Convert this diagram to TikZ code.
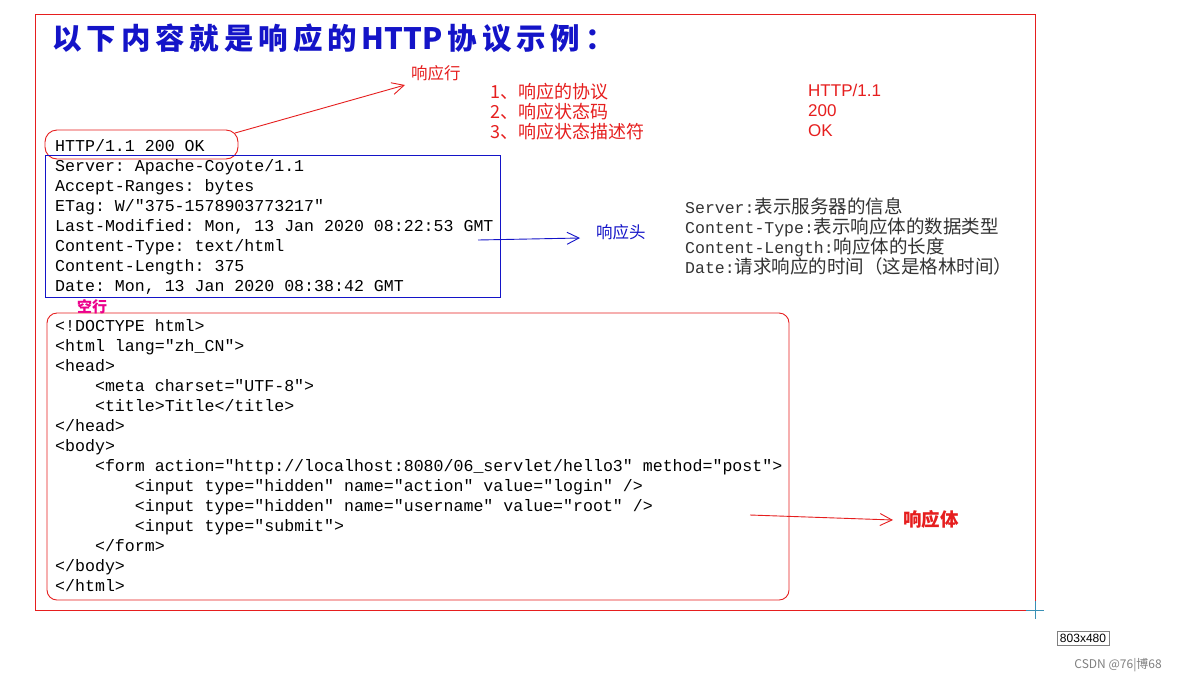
\documentclass[tikz,border=0pt]{standalone}
\usepackage{fontspec}
\setmonofont{Liberation Mono}
\setmainfont{Liberation Sans}
\newfontfamily\cjk{Noto Sans CJK SC}
\usetikzlibrary{arrows.meta}
\definecolor{tblue}{RGB}{20,20,200}
\definecolor{tred}{RGB}{230,30,30}
\tikzset{
  mono/.style={anchor=north west,inner sep=0pt,align=left,font=\fontsize{16.6}{20}\selectfont\ttfamily},
  redtxt/.style={anchor=west,inner sep=0pt,text=tred,font=\fontsize{15}{20}\selectfont},
  hand/.style={line width=0.9pt,-{Straight Barb[length=12pt,width=12pt]}},
}
\begin{document}
\begin{tikzpicture}[x=1pt,y=-1pt]
\useasboundingbox[fill=white] (0,0) rectangle (1177,681);
\draw[tred,line width=0.8pt] (35,14) rectangle (1035,610);
\node[anchor=west,inner sep=0pt,text=tblue,font=\fontsize{29.5}{32}\selectfont\bfseries\cjk] (title) at (52,38) {以\,下\,内\,容\,就\,是\,响\,应\,的\,HTTP\,协\,议\,示\,例\,：};
\node[mono] (line) at (55,139) {HTTP/1.1 200 OK};
\node[mono] (head) at (55,159) {Server: Apache-Coyote/1.1\\Accept-Ranges: bytes\\ETag: W/"375-1578903773217"\\Last-Modified: Mon, 13 Jan 2020 08:22:53 GMT\\Content-Type: text/html\\Content-Length: 375\\Date: Mon, 13 Jan 2020 08:38:42 GMT};
\node[mono] (body) at (55,319) {<!DOCTYPE html>\\<html lang="zh\_CN">\\<head>\\\ \ \ \ <meta charset="UTF-8">\\\ \ \ \ <title>Title</title>\\</head>\\<body>\\\ \ \ \ <form action="http://localhost:8080/06\_servlet/hello3" method="post">\\\ \ \ \ \ \ \ \ <input type="hidden" name="action" value="login" />\\\ \ \ \ \ \ \ \ <input type="hidden" name="username" value="root" />\\\ \ \ \ \ \ \ \ <input type="submit">\\\ \ \ \ </form>\\</body>\\</html>};
\draw[tred,line width=0.9pt,rounded corners=12pt] (45,130) rectangle (238,159);
\draw[tblue,line width=0.9pt] (45,155) rectangle (500,297);
\draw[tred,line width=0.9pt,rounded corners=10pt] (47,313) rectangle (789,600);
\node[redtxt,font=\fontsize{16.5}{18}\selectfont\cjk] (rl) at (411,73) {响应行};
\node[redtxt,anchor=north west,align=left,font=\fontsize{18}{20}\selectfont\cjk] (list) at (490,83) {1、响应的协议\\2、响应状态码\\3、响应状态描述符};
\node[redtxt,anchor=north west,align=left,font=\fontsize{17}{20}\selectfont] (vals) at (808,84) {HTTP/1.1\\200\\OK};
\coordinate (a1s) at (235,133);
\coordinate (a1e) at (405,85);
\draw[tred,hand] (a1s) -- (a1e);
\node[anchor=west,inner sep=0pt,text=tblue,font=\fontsize{16.5}{18}\selectfont\cjk] (rh) at (596,232) {响应头};
\coordinate (a2s) at (478,240);
\coordinate (a2e) at (580,238);
\draw[tblue,hand] (a2s) -- (a2e);
\node[anchor=north west,inner sep=0pt,align=left,text=black!80,font=\fontsize{16.5}{20}\selectfont\ttfamily] (desc) at (685,198) {Server:{\cjk\fontsize{18.5}{20}\selectfont 表示服务器的信息}\\Content-Type:{\cjk\fontsize{18.5}{20}\selectfont 表示响应体的数据类型}\\Content-Length:{\cjk\fontsize{18.5}{20}\selectfont 响应体的长度}\\Date:{\cjk\fontsize{18.5}{20}\selectfont 请求响应的时间（这是格林时间）}};
\node[anchor=west,inner sep=0pt,text=magenta,font=\fontsize{15}{16}\selectfont\bfseries\cjk] (kh) at (77,307) {空行};
\node[anchor=west,inner sep=0pt,text=tred,font=\fontsize{18.5}{20}\selectfont\bfseries\cjk] (rb) at (903,519) {响应体};
\coordinate (a3s) at (750,515);
\coordinate (a3e) at (893,520);
\draw[tred,hand] (a3s) -- (a3e);
\draw[cyan!70!black,line width=0.6pt] (1026,610) -- (1044,610) (1035,601) -- (1035,619);
\node[draw=gray,fill=white,inner sep=3pt,font=\fontsize{12}{14}\selectfont] (sz) at (1083,638) {803x480};
\node[anchor=east,inner sep=0pt,text=gray,font=\fontsize{12}{14}\selectfont\cjk] (csdn) at (1162,665) {CSDN @76|博68};
\end{tikzpicture}
\end{document}
